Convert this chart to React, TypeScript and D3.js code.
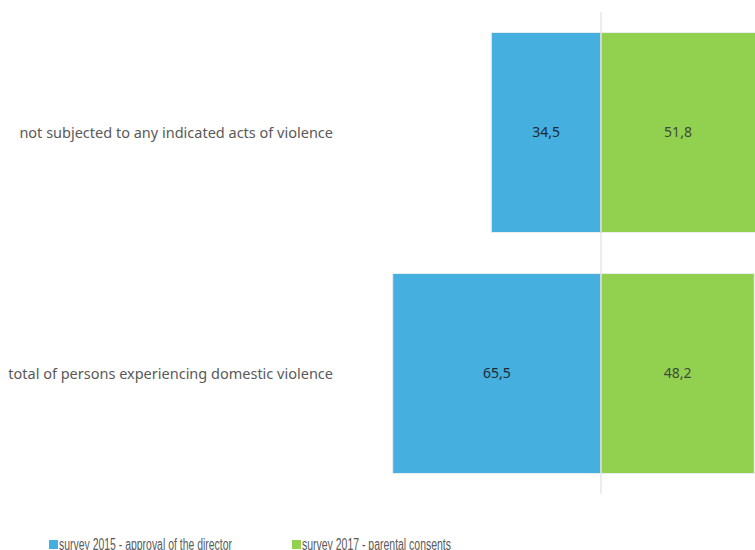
import React from "react";
import * as d3 from "d3";

const categories = [
  "not subjected to any indicated acts of violence",
  "total of persons experiencing domestic violence",
];
const survey2015 = [34.5, 65.5];
const survey2017 = [51.8, 48.2];
const seriesNames = ["survey 2015 - approval of the director", "survey 2017 - parental consents"];
const colors = ["#45AFDF", "#92D150"];

export default function App() {
  const W = 755, H = 550;
  const x = d3.scaleLinear().domain([-100, 100]).range([601 - 318, 601 + 318]);
  const y = d3.scaleBand().domain(categories).range([12, 494]).paddingInner(0.17).paddingOuter(0.085);
  const fmt = (v: number) => v.toFixed(1).replace(".", ",");
  const legendWidths = [173, 149];
  return (
    <svg width={W} height={H} style={{ position: "absolute", left: 0, top: 0, background: "#fff" }}
      fontFamily="'Noto Sans', sans-serif">
      {categories.map((c, i) => {
        const y0 = y(c)!;
        const bh = y.bandwidth();
        return (
          <g key={c}>
            <rect x={x(-survey2015[i])} y={y0} width={x(0) - x(-survey2015[i])} height={bh}
              fill={colors[0]} stroke="#e8eef0" strokeWidth={1} />
            <rect x={x(0)} y={y0} width={x(survey2017[i]) - x(0)} height={bh}
              fill={colors[1]} stroke="#e8eef0" strokeWidth={1} />
            <text x={(x(-survey2015[i]) + x(0)) / 2} y={y0 + bh / 2} dy="0.35em" textAnchor="middle"
              fontSize={14} fill="#1e2a33">{fmt(survey2015[i])}</text>
            <text x={(Math.min(x(survey2017[i]), W) + x(0)) / 2} y={y0 + bh / 2} dy="0.35em" textAnchor="middle"
              fontSize={14} fill="#3d4a3a">{fmt(survey2017[i])}</text>
            <text x={333} y={y0 + bh / 2} dy="0.35em" textAnchor="end" fontSize={14.5} fill="#595959">{c}</text>
          </g>
        );
      })}
      <line x1={x(0)} x2={x(0)} y1={12} y2={494} stroke="#d9d9d9" strokeWidth={1} />
      {seriesNames.map((s, i) => {
        const lx = [49, 292][i];
        return (
          <g key={s}>
            <rect x={lx} y={540} width={9} height={9} fill={colors[i]} />
            <text x={lx + 10} y={550} fontSize={16} fill="#595959"
              textLength={legendWidths[i]} lengthAdjust="spacingAndGlyphs"
              fontFamily="'Liberation Sans', sans-serif">{s}</text>
          </g>
        );
      })}
    </svg>
  );
}
